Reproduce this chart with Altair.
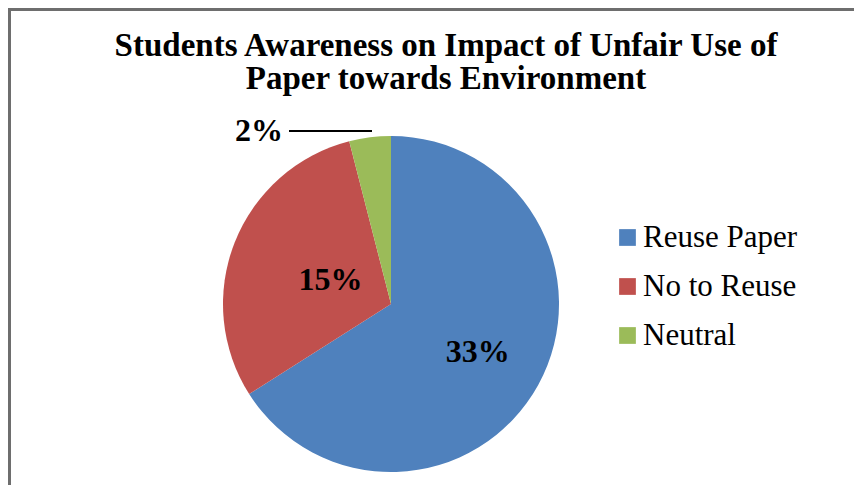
import altair as alt
import pandas as pd

categories = ["Reuse Paper", "No to Reuse", "Neutral"]
values = [33, 15, 2]
labels = ["33%", "15%", "2%"]
colors = ["#4F81BD", "#C0504D", "#9BBB59"]
title_lines = ["Students Awareness on Impact of Unfair Use of", "Paper towards Environment"]

df = pd.DataFrame({"category": categories, "value": values, "label": labels,
                   "idx": list(range(len(categories)))})

FONT = "Liberation Serif"
CX, CY, R = 383, 296, 168

base = alt.Chart(df)

color = alt.Color(
    "category:N",
    scale=alt.Scale(domain=categories, range=colors),
    sort=categories,
    legend=alt.Legend(
        title=None, orient="none", legendX=604, legendY=214,
        symbolType="square", symbolSize=280, symbolStrokeWidth=0, symbolOpacity=1,
        labelFont=FONT, labelFontSize=31, labelColor="black", labelOffset=0,
        rowPadding=17, padding=0, labelLimit=300,
    ),
)

pie = base.mark_arc(radius=R, stroke=None).encode(
    theta=alt.Theta("value:Q", stack=True),
    order=alt.Order("idx:Q"),
    color=color,
    x=alt.value(CX), y=alt.value(CY),
)

lab = base.transform_joinaggregate(total="sum(value)").transform_window(
    cum="sum(value)", sort=[alt.SortField("idx")]
).transform_calculate(
    mid="(datum.cum - datum.value / 2) / datum.total * 2 * PI"
)

def label_layer(cat, radius, dx=0, dy=0):
    return lab.transform_filter(alt.datum.category == cat).mark_text(
        font=FONT, fontSize=32, fontWeight="bold", color="black",
        radius=radius, dx=dx, dy=dy, baseline="middle", align="center",
    ).encode(
        theta=alt.Theta("mid:Q", scale=None, stack=None),
        text="label:N",
        x=alt.value(CX), y=alt.value(CY),
    )

t1 = label_layer("Reuse Paper", 99)
t2 = label_layer("No to Reuse", 65)
t3 = label_layer("Neutral", 175, dx=-110, dy=1)

leader = base.transform_filter(alt.datum.category == "Neutral").mark_rule(
    color="black", strokeWidth=2
).encode(x=alt.value(281), x2=alt.value(364), y=alt.value(123))

title = alt.Chart(pd.DataFrame({"t": [title_lines]})).mark_text(
    font=FONT, fontSize=33, fontWeight="bold", color="black",
    align="center", baseline="alphabetic", lineHeight=33,
).encode(text="t", x=alt.value(438), y=alt.value(48))

border_left = alt.Chart(pd.DataFrame({"a": [0]})).mark_rule(
    color="#6e6e6e", strokeWidth=3
).encode(x=alt.value(1.5), y=alt.value(0), y2=alt.value(477))
border_top = alt.Chart(pd.DataFrame({"a": [0]})).mark_rule(
    color="#6e6e6e", strokeWidth=3
).encode(x=alt.value(0), x2=alt.value(846), y=alt.value(1.5))

chart = alt.layer(pie, t1, t2, t3, leader, title, border_left, border_top).properties(
    width=846, height=477, autosize=alt.AutoSizeParams(type="none"), padding=0
).configure_view(stroke=None).configure(background="white")

chart.save("out.html", embed_options={"renderer": "svg", "actions": False})
